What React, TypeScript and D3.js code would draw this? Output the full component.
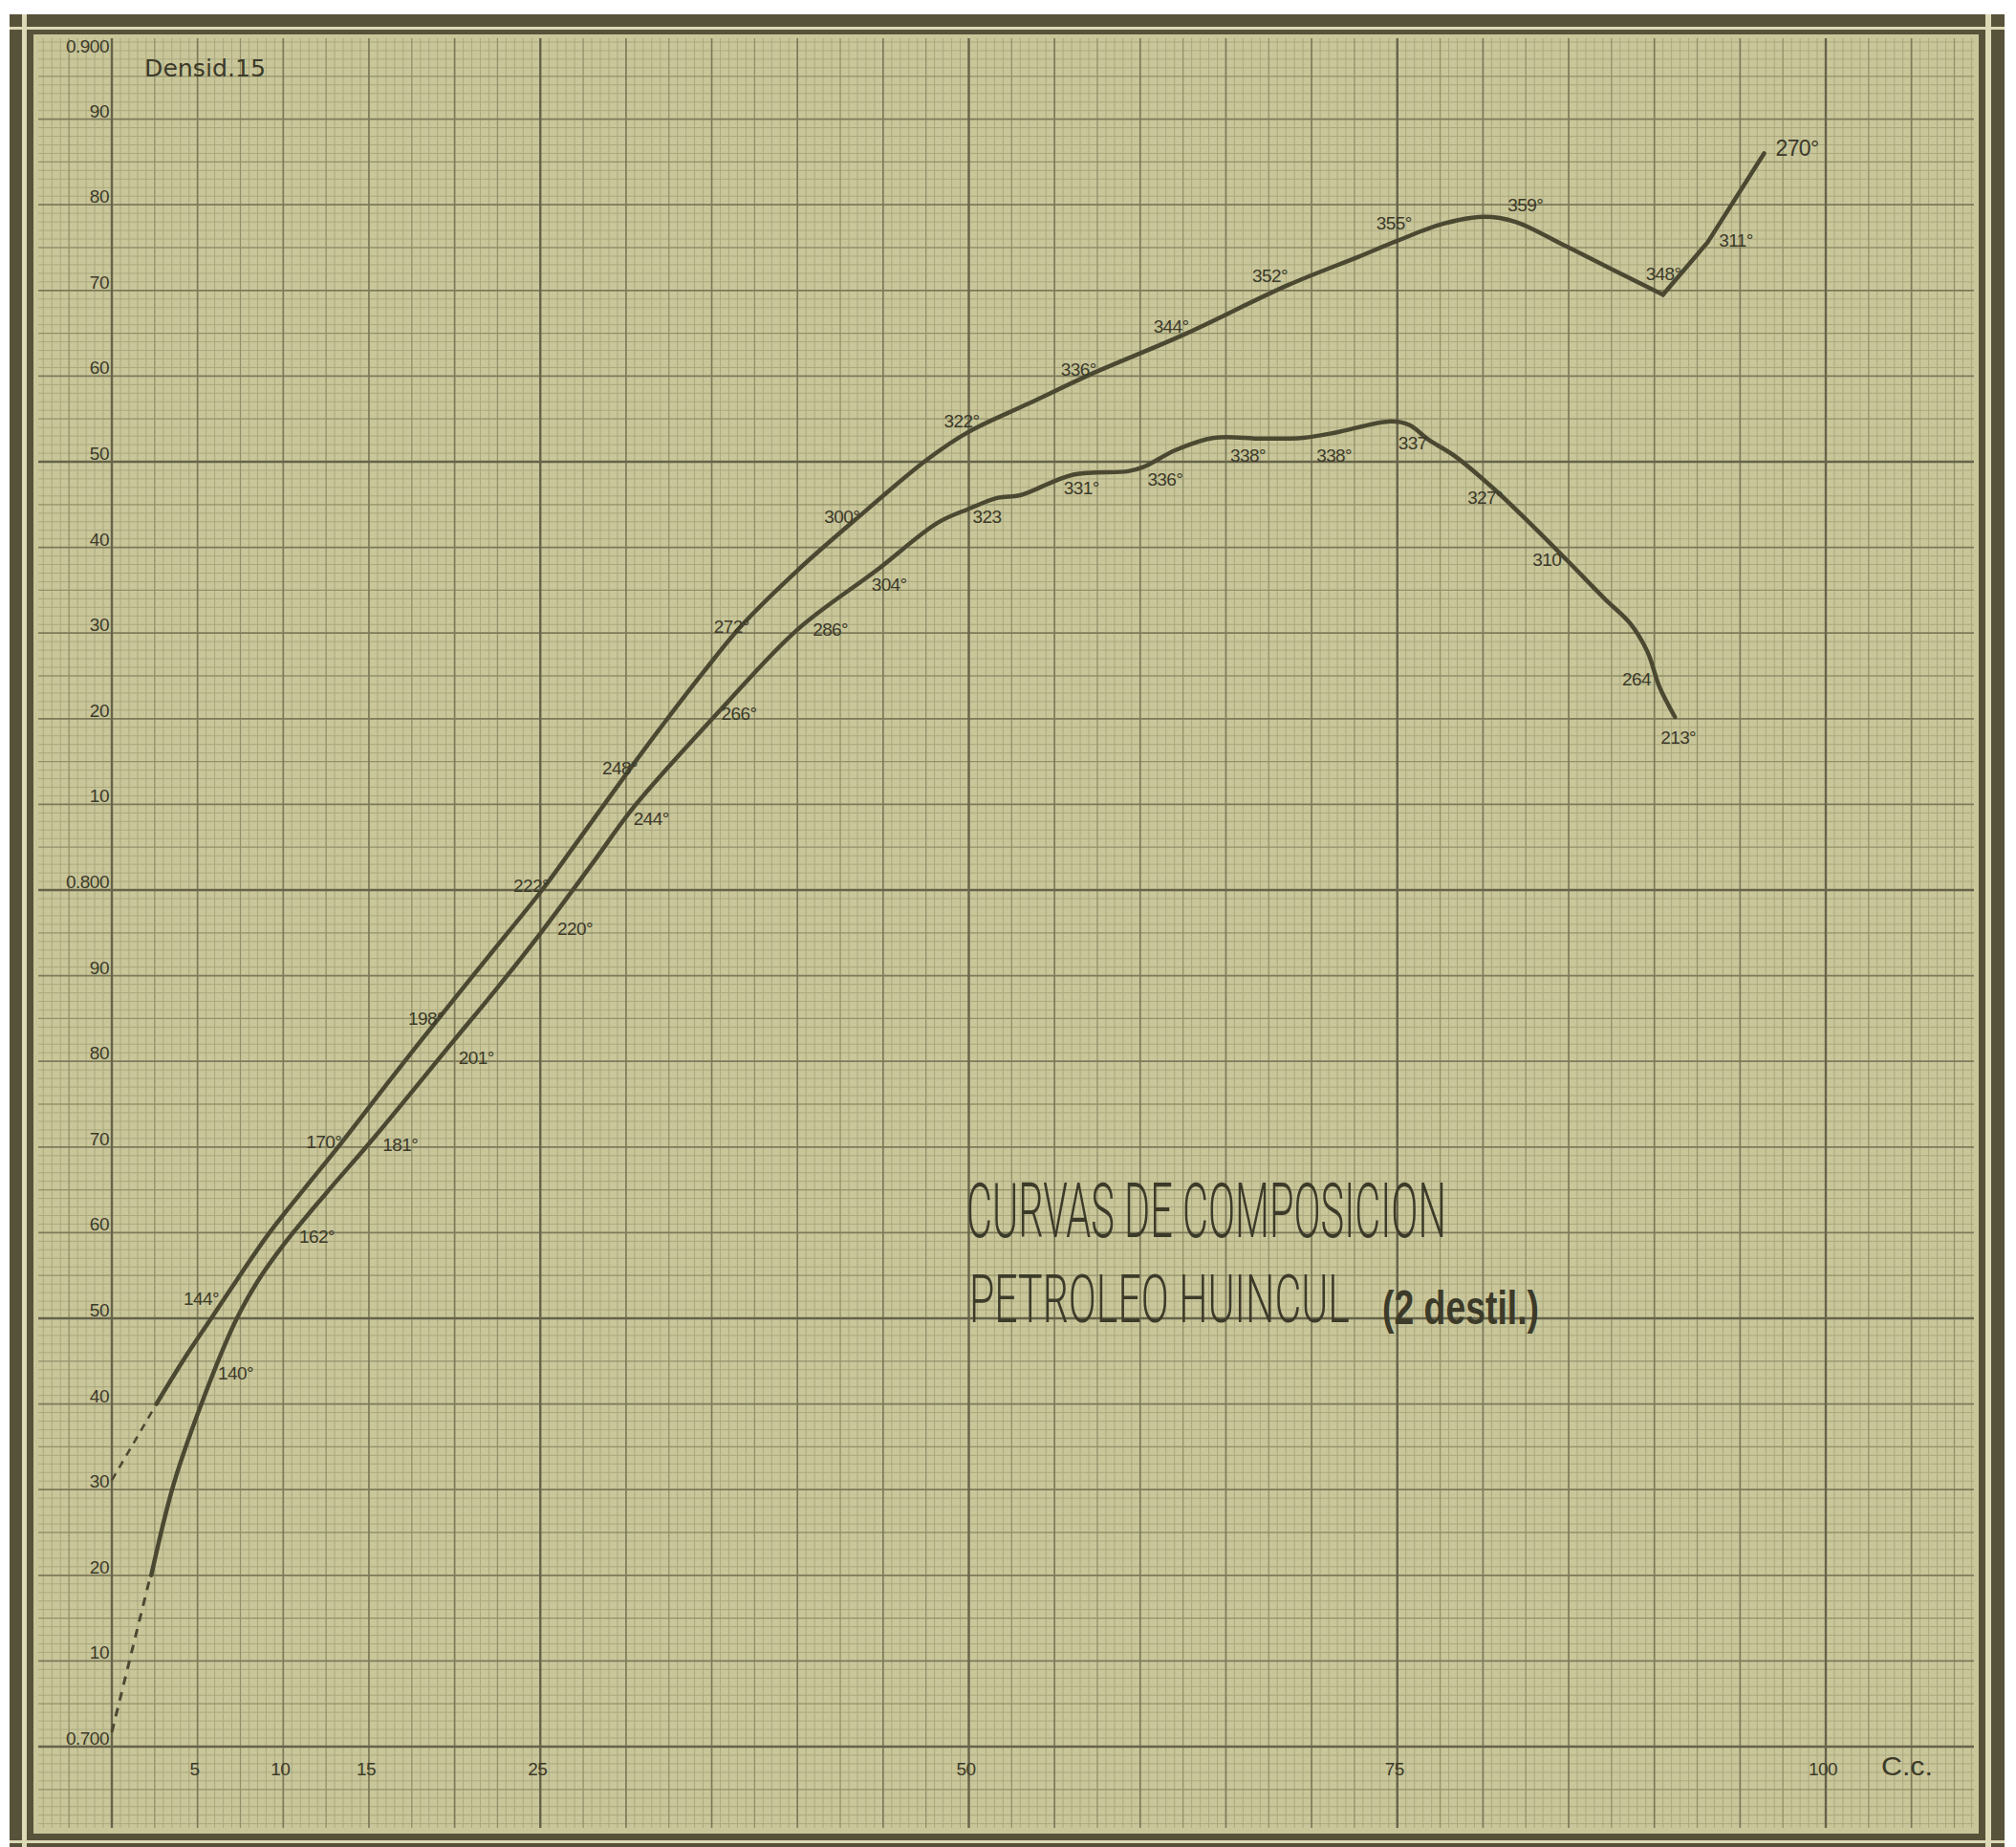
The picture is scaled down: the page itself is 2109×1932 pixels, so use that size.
import React from 'react';
import * as d3 from 'd3';

// curva superior (c.c. destilados / densidad a 15°)
const upperCc = [2.6, 4.2, 5.8, 7.3, 9.2, 11.1, 13.4, 16.3, 19.3, 22.2, 25.1, 27.0, 30.4, 32.3, 34.5, 36.8, 40.0, 43.3, 47.6, 50.0, 53.5, 57.1, 62.5, 68.6, 72.7, 75.0, 77.7, 80.1, 81.9, 84.7, 87.5, 90.5];
const upperDensity = [0.74, 0.7452, 0.75, 0.7545, 0.76, 0.7648, 0.7705, 0.778, 0.7856, 0.7928, 0.8, 0.8052, 0.8146, 0.8197, 0.8254, 0.831, 0.8373, 0.8431, 0.8503, 0.8535, 0.8568, 0.8602, 0.8648, 0.8706, 0.8739, 0.8758, 0.8778, 0.8786, 0.878, 0.8753, 0.8725, 0.8695];
const upperTailCc = [90.5, 93.1, 96.4];
const upperTailDensity = [0.8695, 0.8756, 0.886];
const upperDashCc = [0, 2.4];
const upperDashDensity = [0.7311, 0.7393];

// curva inferior
const lowerCc = [2.3, 3.6, 5.3, 7.2, 8.5, 10.1, 12.5, 15.3, 19.9, 22.5, 25.1, 28.0, 30.5, 35.5, 40.0, 44.6, 48.2, 50.0, 51.7, 53.0, 56.1, 59.3, 60.2, 62.1, 64.3, 67.1, 69.5, 71.4, 74.5, 75.7, 76.8, 78.4, 80.6, 82.7, 84.9, 87.1, 88.6, 89.6, 90.3, 91.2];
const lowerDensity = [0.72, 0.7306, 0.7404, 0.7496, 0.7543, 0.7588, 0.7646, 0.7711, 0.7823, 0.7886, 0.7952, 0.803, 0.8098, 0.821, 0.8304, 0.8373, 0.8429, 0.8445, 0.8458, 0.8461, 0.8485, 0.8489, 0.8494, 0.8514, 0.8528, 0.8527, 0.8528, 0.8534, 0.8547, 0.8543, 0.8526, 0.8506, 0.8469, 0.8429, 0.8385, 0.834, 0.8311, 0.8278, 0.8237, 0.8202];
const lowerDashCc = [0, 2.2];
const lowerDashDensity = [0.7017, 0.7195];

// temperaturas anotadas
const upperTempText = ['144°', '170°', '198°', '222°', '248°', '272°', '300°', '322°', '336°', '344°', '352°', '355°', '359°', '348°', '311°', '270°'];
const upperTempCc = [5.8, 13.4, 19.3, 25.1, 30.4, 36.8, 43.3, 50.0, 57.1, 62.5, 68.6, 75.0, 81.5, 90.5, 93.1, 96.4];
const upperTempDensity = [0.75, 0.7705, 0.7856, 0.8, 0.8146, 0.831, 0.8431, 0.8535, 0.8602, 0.8648, 0.8706, 0.8758, 0.8782, 0.8695, 0.8756, 0.886];
const lowerTempText = ['140°', '162°', '181°', '201°', '220°', '244°', '266°', '286°', '304°', '323', '331°', '336°', '338°', '338°', '337', '327°', '310', '264', '213°'];
const lowerTempCc = [5.3, 10.1, 15.3, 19.9, 25.1, 30.5, 35.5, 40.0, 44.6, 50.0, 56.1, 60.2, 67.1, 71.4, 76.4, 80.6, 84.9, 90.3, 91.2];
const lowerTempDensity = [0.7404, 0.7588, 0.7711, 0.7823, 0.7952, 0.8098, 0.821, 0.8304, 0.8373, 0.8445, 0.8485, 0.8494, 0.8527, 0.8534, 0.8535, 0.8469, 0.8385, 0.8237, 0.8202];

const densityTicks = [0.70, 0.71, 0.72, 0.73, 0.74, 0.75, 0.76, 0.77, 0.78, 0.79, 0.80, 0.81, 0.82, 0.83, 0.84, 0.85, 0.86, 0.87, 0.88, 0.89, 0.90];
const densityTickLabels = ['0.700', '10', '20', '30', '40', '50', '60', '70', '80', '90', '0.800', '10', '20', '30', '40', '50', '60', '70', '80', '90', '0.900'];
const ccTicks = [5, 10, 15, 25, 50, 75, 100];

// where each label sits relative to its point (px)
const upperNudge = [[-29, -14], [-37, 6], [-36, 12], [-30, 2], [-32, 10], [-30, 9], [-31, 2], [-26, -5], [-31, 1], [-31, -2], [-37, -3], [-22, -12], [-1, -9], [-18, -15], [12, 4], [12, 3]];
const lowerNudge = [[16, -22], [15, 0], [9, 14], [6, 23], [16, 4], [-1, 20], [1, 10], [16, 6], [-5, 21], [4, 15], [-10, 21], [4, 20], [-33, 24], [-20, 30], [-24, 18], [-27, 16], [-36, 6], [-39, -2], [-15, 28]];

const W = 2109;
const H = 1932;
const grid = { left: 40, right: 2065, top: 40, bottom: 1912 };

const paper = '#c9c69a';
const ink = '#4b4832';
const textInk = '#3c3a29';
const frame = '#57523a';
const gap = '#dcd9b6';
const labelFont = '"Liberation Sans", Arimo, sans-serif';
const titleFont = 'Roboto, "Liberation Sans", sans-serif';

const x = d3.scaleLinear().domain([0, 100]).range([117, 1910]);
const y = d3.scaleLinear().domain([0.7, 0.9]).range([1827, 35]);

const zip = (a: number[], b: number[]) => a.map((v, i) => [v, b[i]] as [number, number]);

const smooth = d3.line<[number, number]>().x(d => x(d[0])).y(d => y(d[1])).curve(d3.curveCatmullRom.alpha(0.5));
const straight = d3.line<[number, number]>().x(d => x(d[0])).y(d => y(d[1]));

function Grid() {
  const lines: JSX.Element[] = [];
  const style = (k: number) => {
    if (k % 50 === 0) return { stroke: '#66634a', w: 2.4 };
    if (k % 10 === 0) return { stroke: '#7c7a59', w: 1.7 };
    if (k % 5 === 0) return { stroke: '#929068', w: 1.3 };
    return { stroke: '#aba97f', w: 1 };
  };
  const i0 = Math.ceil(x.invert(grid.left) * 2);
  const i1 = Math.floor(x.invert(grid.right) * 2);
  d3.range(i0, i1 + 1).forEach(i => {
    const s = style(i);
    const px = x(i / 2);
    lines.push(<line key={'v' + i} x1={px} x2={px} y1={grid.top} y2={grid.bottom} stroke={s.stroke} strokeWidth={s.w} />);
  });
  const j0 = Math.ceil(y.invert(grid.bottom) * 1000);
  const j1 = Math.floor(y.invert(grid.top) * 1000);
  d3.range(j0, j1 + 1).forEach(j => {
    const s = style(j);
    const py = y(j / 1000);
    lines.push(<line key={'h' + j} x1={grid.left} x2={grid.right} y1={py} y2={py} stroke={s.stroke} strokeWidth={s.w} />);
  });
  // minor lines first so heavier ones are painted on top
  lines.sort((a, b) => (a.props.strokeWidth as number) - (b.props.strokeWidth as number));
  return <g>{lines}</g>;
}

function Labels({ cc, dens, text, nudge }: { cc: number[]; dens: number[]; text: string[]; nudge: number[][] }) {
  return (
    <g fontFamily={labelFont} fill={textInk} letterSpacing={-0.6}>
      {text.map((t, i) => (
        <text key={i} x={x(cc[i]) + nudge[i][0]} y={y(dens[i]) + nudge[i][1]} fontSize={t === '270°' ? 23 : 19}>
          {t}
        </text>
      ))}
    </g>
  );
}

// squeeze a hand-lettered line into the width it has in the drawing
function FitText({ x: tx, y: ty, width, children, ...rest }: any) {
  const ref = React.useRef<SVGTextElement>(null);
  const [k, setK] = React.useState(1);
  React.useLayoutEffect(() => {
    const w = ref.current ? ref.current.getComputedTextLength() : 0;
    if (w > 0) setK(width / w);
  }, [width]);
  return (
    <text ref={ref} transform={`translate(${tx},${ty}) scale(${k},1)`} {...rest}>
      {children}
    </text>
  );
}

export default function App() {
  return (
    <svg width={W} height={H} style={{ position: 'absolute', left: 0, top: 0, background: '#fff' }}>
      {/* marco doble */}
      <rect x={10} y={15} width={2087} height={1930} fill={frame} />
      <rect x={10} y={28} width={2087} height={3} fill={gap} />
      <rect x={10} y={1925} width={2087} height={3} fill={gap} />
      <rect x={23} y={15} width={5} height={1930} fill={gap} />
      <rect x={2077} y={15} width={6} height={1930} fill={gap} />
      <rect x={28} y={31} width={2049} height={1894} fill={frame} />
      <rect x={35} y={36} width={2035} height={1882} fill={paper} />

      <Grid />

      {/* ejes */}
      <g fontFamily={labelFont} fontSize={19} fill={textInk} textAnchor="end" letterSpacing={-0.5}>
        {densityTicks.map((d, i) => (
          <text key={i} x={x(0) - 3} y={Math.max(y(d) - 2, 55)}>
            {densityTickLabels[i]}
          </text>
        ))}
      </g>
      <g fontFamily={labelFont} fontSize={19} fill={textInk} textAnchor="middle" letterSpacing={-0.5}>
        {ccTicks.map(c => (
          <text key={c} x={x(c) - 3} y={y(0.7) + 30}>
            {c}
          </text>
        ))}
      </g>
      <FitText x={1968} y={1857} width={54} fontFamily={labelFont} fontSize={27} fill={textInk}>
        C.c.
      </FitText>
      <FitText x={151} y={80} width={127} fontFamily='"DejaVu Sans", sans-serif' fontSize={25} fill={textInk}>
        Densid.15
      </FitText>

      {/* curvas */}
      <g fill="none" stroke={ink} strokeLinecap="round" strokeLinejoin="round">
        <path d={smooth(zip(upperCc, upperDensity)) ?? ''} strokeWidth={4.5} />
        <path d={straight(zip(upperTailCc, upperTailDensity)) ?? ''} strokeWidth={4.5} />
        <path d={smooth(zip(lowerCc, lowerDensity)) ?? ''} strokeWidth={4.5} />
        <path d={straight(zip(upperDashCc, upperDashDensity)) ?? ''} strokeWidth={2.5} strokeDasharray="8 7" strokeLinecap="butt" />
        <path d={straight(zip(lowerDashCc, lowerDashDensity)) ?? ''} strokeWidth={3} strokeDasharray="9 8" strokeLinecap="butt" />
      </g>

      <Labels cc={upperTempCc} dens={upperTempDensity} text={upperTempText} nudge={upperNudge} />
      <Labels cc={lowerTempCc} dens={lowerTempDensity} text={lowerTempText} nudge={lowerNudge} />

      {/* titulo */}
      <g fill={textInk}>
        <FitText x={1011} y={1294} width={502} fontFamily={titleFont} fontWeight={300} fontSize={80}>
          CURVAS DE COMPOSICION
        </FitText>
        <FitText x={1014} y={1383} width={398} fontFamily={titleFont} fontWeight={300} fontSize={70}>
          PETROLEO HUINCUL
        </FitText>
        <FitText x={1446} y={1385} width={164} fontFamily={labelFont} fontWeight="bold" fontSize={50}>
          (2 destil.)
        </FitText>
      </g>
    </svg>
  );
}
